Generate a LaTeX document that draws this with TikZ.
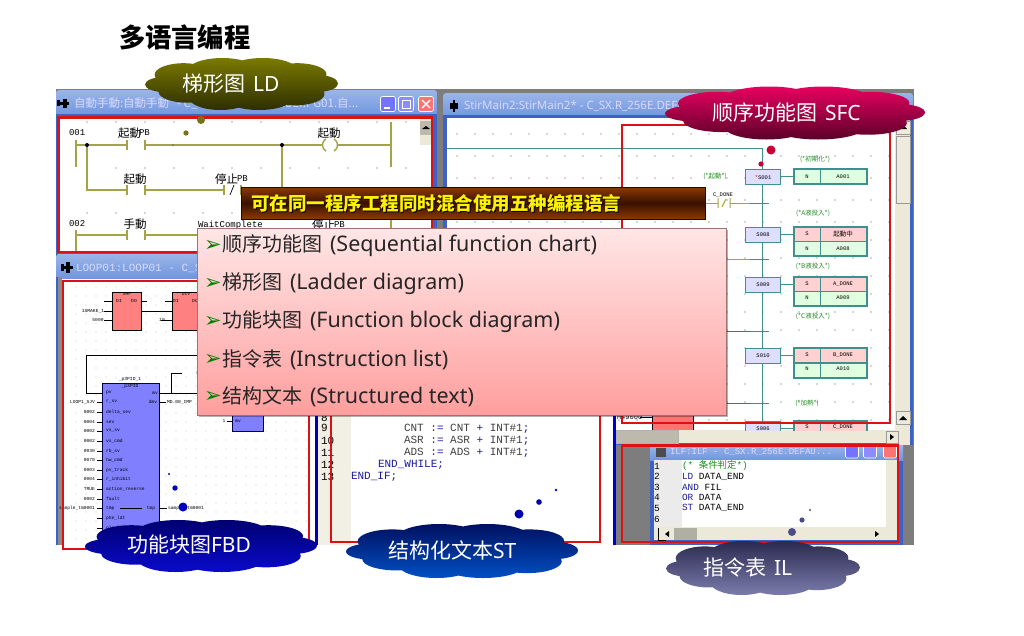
\documentclass[tikz,border=0pt]{standalone}
\usepackage{fontspec}
\setmainfont{Noto Sans}
\setmonofont{Liberation Mono}
\newfontfamily\cj{Noto Sans CJK SC}
\newfontfamily\jp{Noto Sans CJK JP}
\newfontfamily\dv{DejaVu Sans}
\newcounter{nn}
\newcommand{\fs}[1]{\fontsize{#1}{#1}\selectfont}
% auto-named text node: \lb[opts]{x}{y}{text}
\newcommand{\lb}[4][]{\stepcounter{nn}\node[txt,#1] (t\arabic{nn}) at (#2,#3) {#4};}
% cloud: union of ellipses under one shading: \cloudp{cx}{cy}{half w}{half h}{top}{bottom}
\newcommand{\cloudp}[6]{\shade[top color=#5,bottom color=#6,shift={(#1,#2)},x=#3pt,y=#4pt]
  (-.78,-.02) ellipse [x radius=.22,y radius=.30]
  (-.56,-.30) ellipse [x radius=.30,y radius=.42]
  (-.22,-.50) ellipse [x radius=.33,y radius=.50]
  (.18,-.52) ellipse [x radius=.36,y radius=.48]
  (.56,-.38) ellipse [x radius=.30,y radius=.44]
  (.80,.02) ellipse [x radius=.20,y radius=.32]
  (.58,.38) ellipse [x radius=.30,y radius=.42]
  (.22,.52) ellipse [x radius=.36,y radius=.48]
  (-.20,.50) ellipse [x radius=.36,y radius=.50]
  (-.60,.36) ellipse [x radius=.30,y radius=.44]
  (0,0) ellipse [x radius=.80,y radius=.60];}
\definecolor{gridc}{HTML}{555555}
\definecolor{wire}{HTML}{A3A347}
\definecolor{teal2}{HTML}{3F8F8F}
\definecolor{redr}{HTML}{DD1111}
\definecolor{back}{HTML}{7D7D7D}
\definecolor{beige}{HTML}{ECE9D8}
\definecolor{navy2}{HTML}{1A1A9A}
\definecolor{green2}{HTML}{1F8A1F}
\definecolor{tbar}{HTML}{6F95DF}
\definecolor{wedge}{HTML}{3D62C4}
\tikzset{
  txt/.style={inner sep=0pt,outer sep=0pt},
  mono/.style={txt,anchor=west,font=\ttfamily\fs{9}},
  lj/.style={txt,font=\jp\fs{11.5}},
  smt/.style={txt,font=\ttfamily\fs{5.5}},
  cmt/.style={txt,font=\jp\fs{6.5},text=green2},
  pinl/.style={txt,font=\ttfamily\fs{4.6}},
  titlebar/.style={top color=tbar!70!white,bottom color=tbar},
  wbtn/.style={draw=white,line width=.6pt,rounded corners=1.5pt,fill=#1},
  ladder/.style={draw=wire,line width=1.1pt},
  stepb/.style={draw=teal2,line width=1.1pt,fill=#1},
  redbox/.style={draw=redr,line width=2.6pt},
  cloudt/.style={txt,anchor=west,text=white,font=\fs{21}},
  itemt/.style={txt,anchor=west,font=\fs{21.5},text=black!85},
  bul/.style={txt,anchor=center,font=\dv\fs{21},text=green!50!black}
}
\begin{document}
\begin{tikzpicture}[x=1pt,y=-1pt]
\useasboundingbox (0,0) rectangle (1024,635);
\fill[white] (0,0) rectangle (1024,635);
% backdrop
\fill[back] (56,89) rectangle (914,545);

% ---------- SFC window ----------
\shade[titlebar,rounded corners=3pt] (443,93) rectangle (913,118);
\fill[wedge] (443,115) rectangle (913,445);
\fill[white] (447,118) rectangle (895,430);
\fill[beige] (895,118) rectangle (910,445);
\fill[beige] (447,430) rectangle (910,443);
\fill[beige!90!white,draw=black!40] (896,121) rectangle (910,134);
\fill[beige!90!white,draw=black!40] (896,136) rectangle (910,203);
\fill[beige!95!white,draw=black!40] (896,411) rectangle (910,424);
\fill[beige!80!black,draw=black!30] (616,430) rectangle (678,443);
\fill[beige!95!white,draw=black!40] (886,431) rectangle (898,443);
\fill[black] (899,420) -- (907,420) -- (903,416) -- cycle;
\fill[black] (903,125) -- (907,129) -- (899,129) -- cycle;
\fill[black] (890,434) -- (894,437) -- (890,440) -- cycle;
% SFC dots
\begin{scope}
\clip (447,118) rectangle (895,430);
\foreach \x in {457,475,...,890} \foreach \y in {134,156,178,200,222,240,258,276,294,312,330,348,366,384,402,420}
  \fill[gridc] (\x,\y) circle (.55pt);
\draw[teal2,line width=1pt] (447,148) -- (762,148) -- (762,432);
\draw[wire,line width=1pt] (700,203) -- (718,203) (730,203) -- (755,203);
\draw[wire,line width=1pt] (718,198) -- (718,208) (730,198) -- (730,208) (722,207) -- (726,199);
\draw[teal2,line width=1pt] (750,203) -- (769,203);
\draw[wire,line width=1pt] (722,259) -- (755,259);
\draw[teal2,line width=1pt] (750,259) -- (769,259);
\draw[black!60,line width=1pt] (722,331) -- (755,331);
\draw[teal2,line width=1pt] (750,331) -- (769,331);
\draw[black!60,line width=1pt] (722,403) -- (755,403);
\draw[teal2,line width=1pt] (750,403) -- (769,403);
\foreach \ya/\st/\nm in {169/\textcolor{red}{*}S001/s1,227/S008/s8,277/S009/s9,348/S010/s10,421/S006/s6}{
  \draw[teal2,line width=1pt] (780,\ya+7) -- (794,\ya+7);
  \node[stepb=blue!13,minimum width=35pt,minimum height=15pt,inner sep=0pt,anchor=north west,font=\ttfamily\fs{5.5}] (\nm) at (745,\ya) {\st};
}
\draw[stepb=green!12] (794,169) rectangle (867,184); \draw[teal2,line width=1pt] (820,169) -- (820,184);
\foreach \ya/\ym/\yb in {227/241.5/256,277/291.5/306,348/363/378,421/436/451}{
  \draw[stepb=red!18] (794,\ya) rectangle (867,\ym);
  \draw[stepb=green!12] (794,\ym) rectangle (867,\yb);
  \draw[teal2,line width=1pt] (820,\ya) -- (820,\yb);
}
\lb[smt]{807}{176.5}{N}\lb[smt]{843}{176.5}{A001}
\lb[smt]{807}{234}{S}\lb[txt,font=\jp\fs{6.5}]{843}{234}{起動中}
\lb[smt]{807}{249}{N}\lb[smt]{843}{249}{A008}
\lb[smt]{807}{284}{S}\lb[smt]{843}{284}{A\_DONE}
\lb[smt]{807}{298}{N}\lb[smt]{843}{298}{A009}
\lb[smt]{807}{355}{S}\lb[smt]{843}{355}{B\_DONE}
\lb[smt]{807}{369}{N}\lb[smt]{843}{369}{A010}
\lb[smt]{807}{427}{S}\lb[smt]{843}{427}{C\_DONE}
\lb[cmt]{815}{159}{(*初期化*)}
\lb[cmt]{715}{176.5}{(*起動*)}
\lb[cmt]{813}{213}{(*A液投入*)}
\lb[cmt]{813}{266}{(*B液投入*)}
\lb[cmt]{813}{316}{(*C液投入*)}
\lb[cmt]{807}{403}{(*加熱*)}
\lb[smt]{723}{195}{C\_DONE}
\fill[red!55!white] (652,414) rectangle (693,430);
\draw[black,line width=.8pt] (652,414) -- (652,430) (693,414) -- (693,430);
\lb[txt,anchor=west,font=\ttfamily\fs{7}]{617}{417}{M49000}
\draw[black,line width=.6pt] (640,417) -- (652,417);
\end{scope}
\lb[txt,anchor=west,font=\fs{11.5},text=white!85!blue]{464}{106}{StirMain2:StirMain2* - C\_SX.R\_256E.DEFA}
\fill[black] (450,103) rectangle (458,109); \fill[black] (453,100) rectangle (455,112);
% SFC lower-left blue edge
\fill[white] (600,415) rectangle (613,545);
\fill[blue!80!black] (613,415) rectangle (616,545);

% ---------- LD window ----------
\shade[titlebar,rounded corners=3pt] (56,90) rectangle (437,116);
\fill[wedge] (56,114) rectangle (437,256);
\fill[white] (58,116) rectangle (433,253);
\fill[beige] (420,118) rectangle (432,145);
\fill[beige!80!black] (420,121) rectangle (432,135);
\fill[black] (426,126) -- (430,129) -- (422,129) -- cycle;
\fill[back] (437,89) rectangle (443,256);
\foreach \x in {87,116,...,410} \foreach \y in {122,168,213} \fill[gridc] (\x,\y) circle (.55pt);
\fill[black] (57,100) rectangle (60,106); \fill[black] (60,102) rectangle (69,104.5); \fill[black] (63,99) rectangle (67,108);
\lb[txt,anchor=west,font=\jp\fs{11.5},text=white!85!blue]{74}{103}{自動手動:自動手動* - C\_SX.R\_256E.DEFAULT.PG01.自...}
\node[wbtn={blue!55!white},minimum width=15pt,minimum height=15pt,inner sep=0pt] (ldmin) at (388,104) {};
\node[wbtn={blue!45!white},minimum width=15pt,minimum height=15pt,inner sep=0pt] (ldmax) at (406,104) {};
\node[wbtn={red!55!white},minimum width=15pt,minimum height=15pt,inner sep=0pt] (ldcls) at (426,104) {};
\fill[white] (384,107) rectangle (390,109);
\draw[white,line width=1pt] (402,100) rectangle (410,108);
\draw[white,line width=1.4pt] (422,100) -- (430,108) (430,100) -- (422,108);
% ladder
\draw[ladder,line width=1.4pt] (76,140) -- (76,167) (76,230) -- (76,252);
\draw[ladder,line width=1.4pt] (391,122) -- (391,167) (391,219) -- (391,252);
\draw[ladder] (76,145) -- (127,145) (145,145) -- (322,145) (338,145) -- (391,145);
\draw[ladder] (87,145) -- (87,190) -- (127,190) (145,190) -- (224,190) (241,190) -- (250,190);
\draw[ladder] (282,145) -- (282,190);
\draw[ladder] (76,235) -- (127,235) (145,235) -- (210,235);
\foreach \x in {127,145,224,241} \draw[ladder] (\x,185) -- (\x,195);
\foreach \x in {127,145} {\draw[ladder] (\x,140) -- (\x,150); \draw[ladder] (\x,230) -- (\x,240);}
\draw[black,line width=.7pt] (230,195) -- (234,185);
\draw[ladder,line width=1.4pt] (326,139) arc (120:240:7pt);
\draw[ladder,line width=1.4pt] (334,139) arc (60:-60:7pt);
\fill[black] (87,145) circle (2pt); \fill[black] (282,145) circle (2pt);
\fill[wire!70!black] (173,145) circle (1pt);
\lb[mono]{69}{133}{001}
\lb[lj,anchor=west]{118}{133}{起動}\lb[mono]{139}{133}{PB}
\lb[lj]{329}{133}{起動}
\lb[lj]{135}{179}{起動}
\lb[lj,anchor=west]{215}{179}{停止}\lb[mono]{237}{179}{PB}
\lb[mono]{69}{224}{002}
\lb[lj]{135}{224}{手動}
\lb[mono,text=black]{198}{225}{WaitComplete}
\lb[lj,anchor=west]{312}{225}{停止}\lb[mono]{334}{225}{PB}

% ---------- FBD window ----------
\shade[titlebar,rounded corners=3pt] (56,254) rectangle (318,279);
\fill[wedge] (56,277) rectangle (58,545);
\fill[black!45] (58,277) rectangle (62,545);
\fill[white] (62,279) rectangle (316,545);
\fill[blue!70!black] (315,279) rectangle (318,545);
\fill[black] (61,264) rectangle (64,271); \fill[black] (64,266) rectangle (73,269); \fill[black] (66,262) rectangle (70,273);
\lb[txt,anchor=west,font=\ttfamily\fs{11},text=white!85!blue]{76}{268}{LOOP01:LOOP01 - C\_S}
\foreach \x in {76,86,...,306} \foreach \y in {287,296,...,540} \fill[gridc!80] (\x,\y) circle (.4pt);
\draw[black,line width=.8pt] (86,355) -- (210,355);
\draw[black,line width=.8pt] (86,355) -- (86,393) -- (102,393);
\draw[black,line width=.8pt] (159,393) -- (210,393) (171,393) -- (171,373) -- (182,373);
\draw[black,line width=.8pt] (104,311) -- (112,311) (104,320) -- (112,320) (161,320) -- (172,320) (104,301) -- (112,301) (165,301) -- (172,301) (141,301) -- (147,301);
\node[draw=black,line width=.9pt,fill=red!50!white,anchor=north west,minimum width=29pt,minimum height=38pt,inner sep=0pt] (fb1) at (112,292) {};
\node[draw=black,line width=.9pt,fill=red!50!white,anchor=north west,minimum width=40pt,minimum height=38pt,inner sep=0pt] (fb2) at (172,292) {};
\draw[black,line width=.8pt] (fb1.east) -- (fb2.west);
\lb[pinl]{127}{294}{SMF}\lb[pinl]{186}{294}{DIV}
\lb[pinl]{119}{301}{DI}\lb[pinl]{134}{301}{DO}
\lb[pinl]{176}{301}{DI}\lb[pinl]{195}{301}{DO}
\lb[pinl]{93}{311}{1SMAKE\_1}\lb[pinl]{98}{320}{5000}\lb[pinl]{162}{320}{10}
\node[draw=black!70!blue,line width=.9pt,fill=blue!50!white,anchor=north west,minimum width=57pt,minimum height=170pt,inner sep=0pt] (pid) at (102,383) {};
\lb[pinl]{130}{379}{\_p3PID\_1}\lb[pinl]{130}{386}{\_p3PID}
\lb[pinl]{205}{373}{MD.00\_}
\foreach \y/\nm/\lf in {
 393/pv/,402/r\_sv/LOOP1\_SJV,412/delta\_sev/0002,422/sev/0004,431/vs\_sv/0002,441/vs\_cmd/0002,
 451/rb\_sv/0030,460/hw\_cmd/0070,470/pv\_track/0003,479/r\_inhibit/0004,489/action\_reverse/TRUE,
 499/fault/0002,508/tmp/sample\_tm0001,518/phe\_ldt/,528/pla\_ldt/}{
   \draw[black,line width=.6pt] (97,\y) -- (102,\y);
   \node[pinl,anchor=west] (pn\y) at (106,\y) {\nm};
   \node[pinl,anchor=east] (pl\y) at (95,\y) {\lf};
}
\draw[black,line width=.6pt] (120,508) -- (142,508);
\lb[pinl]{155}{393}{mv}\lb[pinl]{153}{402}{dmv}\lb[pinl]{151}{508}{tmp}
\draw[black,line width=.6pt] (159,402) -- (166,402) (159,508) -- (167,508);
\lb[pinl,anchor=west]{167}{402}{MD.00\_IMP}\lb[pinl,anchor=west]{168}{508}{sample\_tm0001}
\node[draw=black!70!blue,line width=.9pt,fill=blue!50!white,anchor=north west,minimum width=31pt,minimum height=31pt,inner sep=0pt] (pid2) at (232,400) {};
\draw[black,line width=.6pt] (227,421) -- (232,421);
\lb[pinl]{224}{421}{1}\lb[pinl]{238}{421}{mv}

% ---------- ST window ----------
\fill[beige!70!white] (318,400) rectangle (351,545);
\fill[white] (351,400) rectangle (600,545);
\foreach \y/\n in {418/8,428/9,441/10,453/11,465/12,477/13} {\lb[mono,font=\ttfamily\fs{11}]{321}{\y}{\n}}
\lb[mono,font=\ttfamily\fs{11},text=black!75]{404}{429}{CNT \textcolor{navy2}{:=} CNT \textcolor{navy2}{+} INT\#1\textcolor{navy2}{;}}
\lb[mono,font=\ttfamily\fs{11},text=black!75]{404}{441}{ASR \textcolor{navy2}{:=} ASR \textcolor{navy2}{+} INT\#1\textcolor{navy2}{;}}
\lb[mono,font=\ttfamily\fs{11},text=black!75]{404}{453}{ADS \textcolor{navy2}{:=} ADS \textcolor{navy2}{+} INT\#1\textcolor{navy2}{;}}
\lb[mono,font=\ttfamily\fs{11},text=navy2]{378}{465}{END\_WHILE;}
\lb[mono,font=\ttfamily\fs{11},text=navy2]{351}{477}{END\_IF;}

% ---------- IL window ----------
\fill[wedge] (650,445) rectangle (903,545);
\shade[titlebar] (650,445) rectangle (903,460);
\fill[white] (654,460) rectangle (886,527);
\fill[black!8] (654,460) rectangle (682,527);
\fill[beige] (886,460) rectangle (898,540);
\fill[beige] (654,527) rectangle (898,540);
\fill[beige!75!black] (674,528) rectangle (697,540);
\draw[black,line width=.9pt] (658,528) -- (658,540) -- (666,540);
\fill[black] (669,531) -- (669,537) -- (665,534) -- cycle;
\fill[black] (875,531) -- (875,537) -- (879,534) -- cycle;
\lb[txt,anchor=west,font=\ttfamily\fs{9},text=white!85!blue]{670}{452}{ILF:ILF - C\_SX.R\_256E.DEFAU...}
\fill[black!70] (656,448) rectangle (666,457);
\node[wbtn={blue!55!white},minimum width=13pt,minimum height=12pt,inner sep=0pt] (ilmin) at (852,452) {};
\node[wbtn={blue!45!white},minimum width=13pt,minimum height=12pt,inner sep=0pt] (ilmax) at (870,452) {};
\node[wbtn={red!55!white},minimum width=13pt,minimum height=12pt,inner sep=0pt] (ilcls) at (890,452) {};
\foreach \y/\n in {466/1,476.5/2,487/3,497.5/4,508/5,519/6} {\lb[mono,font=\ttfamily\fs{9.4}]{654}{\y}{\n}}
\lb[mono,font=\ttfamily\fs{9.4},text=green2]{682}{466}{(* {\jp 条件判定}*)}
\lb[mono,font=\ttfamily\fs{9.4}]{682}{476.5}{\textcolor{navy2}{LD} DATA\_END}
\lb[mono,font=\ttfamily\fs{9.4}]{682}{487}{\textcolor{navy2}{AND} FIL}
\lb[mono,font=\ttfamily\fs{9.4}]{682}{497.5}{\textcolor{navy2}{OR} DATA}
\lb[mono,font=\ttfamily\fs{9.4}]{682}{508}{\textcolor{navy2}{ST} DATA\_END}

% ---------- red frames ----------
\draw[redbox] (58.5,117.5) rectangle (432,252);
\draw[redbox] (63,281) rectangle (309,549);
\draw[redbox] (331,400) -- (331,542) -- (600,542) -- (600,400);
\draw[redbox] (622,125) rectangle (890,423);
\draw[redbox] (622,445.5) rectangle (898,542);

% ---------- thought dots ----------
\fill[olive!80!black] (201,120) circle (4pt); \fill[olive!80!black] (186,133) circle (2.7pt);
\fill[purple!85!red] (771,150) circle (4.5pt); \fill[purple!85!red] (761,164) circle (2.6pt);
\fill[blue!75!black] (183,507) circle (4.5pt); \fill[blue!75!black] (175,488) circle (2.7pt); \fill[blue!75!black] (169,474) circle (1.2pt);
\fill[blue!70!black] (519,514) circle (4.5pt); \fill[blue!70!black] (539,502) circle (2.8pt); \fill[blue!70!black] (556,490) circle (1.3pt);
\fill[blue!35!black!70!white] (792,532) circle (4pt); \fill[blue!35!black!70!white] (802,520) circle (2.6pt); \fill[blue!35!black!70!white] (810,510) circle (1.1pt);

% ---------- clouds ----------
\definecolor{ldt}{HTML}{7A7A00}\definecolor{ldb}{HTML}{2E2E00}
\definecolor{sft}{HTML}{E80060}\definecolor{sfb}{HTML}{5A0028}
\definecolor{fbt}{HTML}{000070}\definecolor{fbb}{HTML}{0A0ACC}
\definecolor{stt}{HTML}{001060}\definecolor{stb}{HTML}{0050C4}
\definecolor{ilt}{HTML}{2A2A50}\definecolor{ilb}{HTML}{7C7CAC}
\cloudp{241.5}{84}{96.5}{26}{ldt}{ldb}
\cloudp{795}{113}{130}{26.5}{sft}{sfb}
\cloudp{201}{546}{116}{26}{fbt}{fbb}
\cloudp{462}{551}{116}{27}{stt}{stb}
\cloudp{763}{568}{97}{27}{ilt}{ilb}
\node[cloudt] (cLD) at (182,84) {{\cj 梯形图}\hspace{8pt}LD};
\node[cloudt] (cSFC) at (712,113) {{\cj 顺序功能图}\hspace{8pt}SFC};
\node[cloudt] (cFBD) at (127,545) {{\cj 功能块图}FBD};
\node[cloudt] (cST) at (388,550) {{\cj 结构化文本}ST};
\node[cloudt] (cIL) at (703,568) {{\cj 指令表}\hspace{8pt}IL};

% ---------- banner ----------
\definecolor{bant}{HTML}{8B3A00}\definecolor{banm}{HTML}{3A1000}
\shade[top color=bant,bottom color=bant,middle color=banm,draw=blue!50!black,line width=1pt] (241,187) rectangle (705,219);
\node[txt,anchor=west,font=\cj\bfseries\fs{18.5},text=black] (bannershadow) at (252,204.5) {可在同一程序工程同时混合使用五种编程语言};
\node[txt,anchor=west,font=\cj\bfseries\fs{18.5},text=yellow] (banner) at (251,203.5) {可在同一程序工程同时混合使用五种编程语言};

% ---------- list box ----------
\definecolor{boxt}{HTML}{FFE6E6}\definecolor{boxb}{HTML}{FF9E9E}
\fill[black,opacity=.3] (199,230) rectangle (728,417);
\shade[top color=boxt,bottom color=boxb,draw=red!30!black!55,line width=.8pt] (197,228) rectangle (726,415);
\foreach \y/\c/\e in {245.5/顺序功能图/(Sequential function chart),
  283.5/梯形图/(Ladder diagram),321.5/功能块图/(Function block diagram),
  359.5/指令表/(Instruction list),396.5/结构文本/(Structured text)}{
  \node[bul] at (213,\y) {➢};
  \node[itemt,font=\fs{21.5}] at (222,\y) {{\cj\fs{20}\c}\hspace{8pt}\e};
}
\node[txt,anchor=west,font=\cj\bfseries\fs{26.3}] (title) at (119,37) {多语言编程};
\end{tikzpicture}
\end{document}
